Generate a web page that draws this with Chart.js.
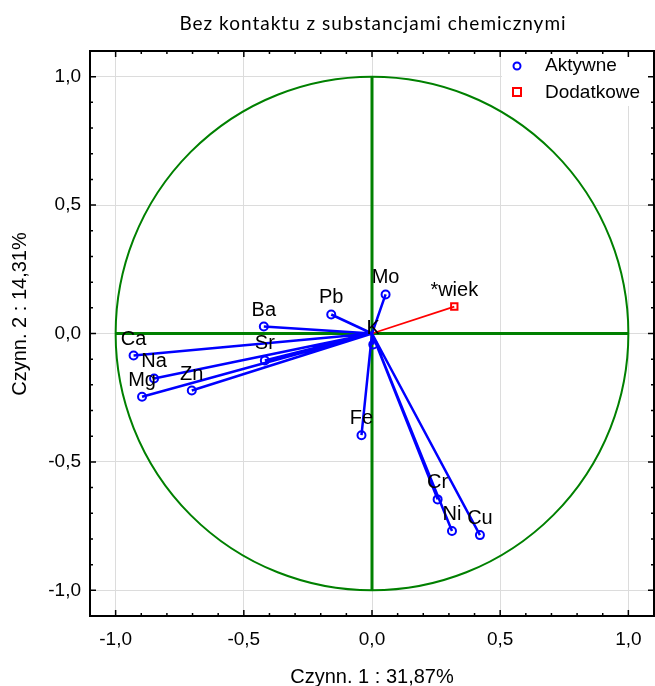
<!DOCTYPE html>
<html lang="pl">
<head>
<meta charset="UTF-8">
<title>Bez kontaktu z substancjami chemicznymi</title>
<script src="https://cdn.jsdelivr.net/npm/chart.js"></script>
<style>
    body { margin: 0; background: #fff; }
    #wrap { width: 655px; height: 686px; }
</style>
</head>
<body>
<div id="wrap"><canvas id="pca" width="655" height="686"></canvas></div>
<script>
// factor loadings of the active variables
const varNames = ['Ca', 'Na', 'Mg', 'Zn', 'Ba', 'Sr', 'Pb', 'Mo', 'K', 'Fe', 'Cr', 'Ni', 'Cu'];
const factor1 = [-0.930, -0.850, -0.897, -0.703, -0.422, -0.418, -0.159, 0.053, 0.005, -0.041, 0.256, 0.312, 0.421];
const factor2 = [-0.086, -0.175, -0.246, -0.222, 0.027, -0.105, 0.074, 0.152, -0.043, -0.396, -0.646, -0.769, -0.785];

// supplementary variable
const suppNames = ['*wiek'];
const suppF1 = [0.321];
const suppF2 = [0.105];

const axisTicks = [-1.0, -0.5, 0.0, 0.5, 1.0];
const titleText = 'Bez kontaktu z substancjami chemicznymi';
const xTitle = 'Czynn. 1 : 31,87%';
const yTitle = 'Czynn. 2 : 14,31%';

const BLUE = '#0000ff';
const RED = '#ff0000';
const GREEN = '#008000';
const FONT = '"Liberation Sans", Arial, sans-serif';

const activePts = varNames.map((n, i) => ({ x: factor1[i], y: factor2[i], name: n }));
const suppPts = suppNames.map((n, i) => ({ x: suppF1[i], y: suppF2[i], name: n }));

// origin -> point segments, separated by gaps
function vectors(pts) {
    const out = [];
    pts.forEach(p => {
        out.push({ x: 0, y: 0 }, { x: p.x, y: p.y }, { x: p.x, y: null });
    });
    return out;
}

function isMajor(v) {
    return axisTicks.some(t => Math.abs(t - v) < 1e-6);
}
function fmt(v) {
    if (Math.abs(v) < 1e-6) return '0,0';
    return v.toFixed(1).replace('.', ',');
}

const overlay = {
    id: 'overlay',
    beforeDatasetsDraw(chart) {
        const { ctx, scales: { x, y } } = chart;
        const cx = x.getPixelForValue(0), cy = y.getPixelForValue(0);
        const rx = x.getPixelForValue(1) - cx, ry = cy - y.getPixelForValue(1);
        ctx.save();
        ctx.strokeStyle = GREEN;
        ctx.lineWidth = 2;
        ctx.beginPath();
        ctx.ellipse(cx, cy, rx, ry, 0, 0, Math.PI * 2);
        ctx.stroke();
        ctx.lineWidth = 3;
        ctx.beginPath();
        ctx.moveTo(x.getPixelForValue(-1), cy);
        ctx.lineTo(x.getPixelForValue(1), cy);
        ctx.moveTo(cx, y.getPixelForValue(1));
        ctx.lineTo(cx, y.getPixelForValue(-1));
        ctx.stroke();
        ctx.restore();
    },
    afterDatasetsDraw(chart) {
        const { ctx, chartArea: a, scales: { x, y } } = chart;
        ctx.save();

        // variable labels above the points
        ctx.fillStyle = '#000';
        ctx.font = '20px ' + FONT;
        ctx.textAlign = 'center';
        ctx.textBaseline = 'alphabetic';
        activePts.concat(suppPts).forEach(p => {
            ctx.fillText(p.name, x.getPixelForValue(p.x), y.getPixelForValue(p.y) - 11);
        });

        // legend box
        const lx = 502, ly = a.top + 1;
        ctx.fillStyle = '#fff';
        ctx.fillRect(lx, ly, a.right - lx - 2, 54);
        ctx.lineWidth = 2;
        ctx.strokeStyle = BLUE;
        ctx.beginPath();
        ctx.arc(lx + 15, 66, 3.5, 0, Math.PI * 2);
        ctx.stroke();
        ctx.strokeStyle = RED;
        ctx.strokeRect(lx + 11, 88, 8, 8);
        ctx.fillStyle = '#000';
        ctx.font = '19px ' + FONT;
        ctx.textAlign = 'left';
        ctx.textBaseline = 'middle';
        ctx.fillText('Aktywne', lx + 43, 66);
        ctx.fillText('Dodatkowe', lx + 43, 93);

        // frame with inward ticks
        ctx.strokeStyle = '#000';
        ctx.lineWidth = 2;
        ctx.strokeRect(a.left, a.top, a.right - a.left, a.bottom - a.top);
        ctx.lineWidth = 1.5;
        ctx.beginPath();
        x.ticks.forEach(t => {
            const px = x.getPixelForValue(t.value);
            const len = isMajor(t.value) ? 6 : 3;
            ctx.moveTo(px, a.top); ctx.lineTo(px, a.top + len);
            ctx.moveTo(px, a.bottom); ctx.lineTo(px, a.bottom - len);
        });
        y.ticks.forEach(t => {
            const py = y.getPixelForValue(t.value);
            const len = isMajor(t.value) ? 6 : 3;
            ctx.moveTo(a.left, py); ctx.lineTo(a.left + len, py);
            ctx.moveTo(a.right, py); ctx.lineTo(a.right - len, py);
        });
        ctx.stroke();

        // titles
        ctx.fillStyle = '#000';
        ctx.textAlign = 'center';
        ctx.textBaseline = 'middle';
        ctx.font = '19px Lato, "Open Sans", sans-serif';
        ctx.letterSpacing = '1px';
        ctx.fillText(titleText, 373, 24);
        ctx.letterSpacing = '0px';
        ctx.font = '20px ' + FONT;
        ctx.fillText(xTitle, 372, 677);
        ctx.translate(20, 314);
        ctx.rotate(-Math.PI / 2);
        ctx.fillText(yTitle, 0, 0);
        ctx.restore();
    }
};

function scaleOpts(fitKey, fitVal, pad) {
    return {
        type: 'linear',
        min: -1.1,
        max: 1.1,
        ticks: {
            stepSize: 0.1,
            autoSkip: false,
            maxRotation: 0,
            padding: pad,
            color: '#000',
            font: { size: 19, family: FONT },
            callback: v => isMajor(v) ? fmt(v) : ''
        },
        grid: {
            drawTicks: false,
            lineWidth: 1,
            color: c => isMajor(c.tick.value) ? '#dcdcdc' : 'rgba(0,0,0,0)'
        },
        border: { display: false },
        afterFit: s => {
            s[fitKey] = fitVal;
            s.paddingLeft = 0;
            s.paddingRight = 0;
            s.paddingTop = 0;
            s.paddingBottom = 0;
        }
    };
}

new Chart(document.getElementById('pca'), {
    type: 'scatter',
    data: {
        datasets: [
            {
                label: 'Aktywne',
                data: activePts,
                pointStyle: 'circle',
                pointRadius: 4,
                borderColor: BLUE,
                backgroundColor: 'rgba(0,0,0,0)',
                borderWidth: 2,
                order: 1
            },
            {
                label: 'Dodatkowe',
                data: suppPts,
                pointStyle: 'rect',
                pointRadius: 4.5,
                borderColor: RED,
                backgroundColor: 'rgba(0,0,0,0)',
                borderWidth: 2,
                order: 1
            },
            {
                label: 'vec-active',
                data: vectors(activePts),
                showLine: true,
                spanGaps: false,
                pointRadius: 0,
                borderColor: BLUE,
                borderWidth: 2.5,
                order: 2
            },
            {
                label: 'vec-supp',
                data: vectors(suppPts),
                showLine: true,
                spanGaps: false,
                pointRadius: 0,
                borderColor: RED,
                borderWidth: 1.8,
                order: 2
            }
        ]
    },
    options: {
        responsive: false,
        animation: false,
        layout: { autoPadding: false, padding: { top: 51, right: 1, left: 0, bottom: 0 } },
        plugins: {
            legend: { display: false },
            tooltip: { enabled: false }
        },
        scales: {
            x: scaleOpts('height', 70, 12),
            y: scaleOpts('width', 90, 9)
        }
    },
    plugins: [overlay]
});
</script>
</body>
</html>
